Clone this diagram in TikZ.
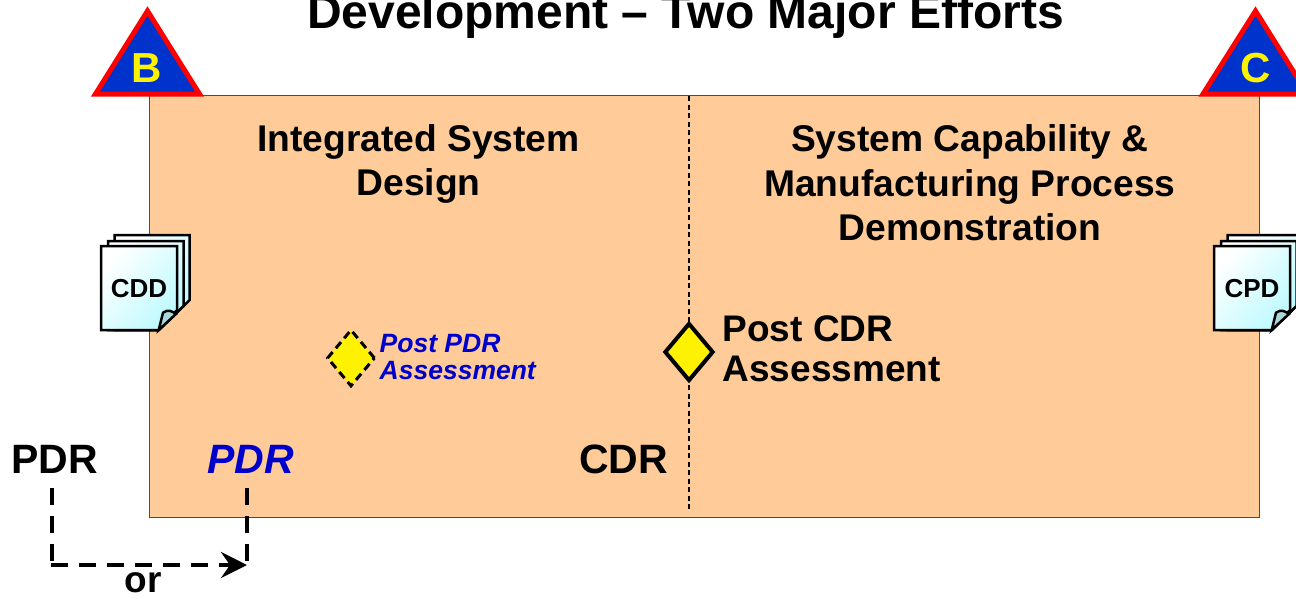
\documentclass[tikz,border=0pt]{standalone}
\usepackage{fontspec}
\setmainfont{Liberation Sans}
\usetikzlibrary{positioning,arrows.meta,shapes.geometric}

\definecolor{panelfill}{RGB}{255,204,153}
\definecolor{deltablue}{RGB}{0,51,204}
\definecolor{textblue}{RGB}{0,0,204}
\definecolor{pagecyan}{RGB}{190,250,255}
\definecolor{curlfill}{RGB}{170,215,215}

\tikzset{
  head/.style={font=\bfseries\fontsize{37.2}{44.5}\selectfont,align=center,inner sep=0pt},
  review/.style={font=\bfseries\fontsize{41}{41}\selectfont,inner ysep=14.5pt,inner xsep=0pt},
  delta/.style={draw=red,fill=deltablue,line width=5pt,miter limit=10},
  deltatext/.style={font=\bfseries\fontsize{42}{42}\selectfont,text=yellow,inner sep=0pt},
  gate/.style={diamond,fill=yellow,draw=black,inner sep=0pt},
  orline/.style={line width=4pt,dash pattern=on 16.5pt off 11.5pt},
  page/.style={draw=black,line width=2.5pt,line join=miter,top color=white,bottom color=pagecyan,shading angle=50},
  pics/docstack/.style={code={
    \path[page] (13.5,-11) -- (88.7,-11) -- (88.7,54) -- (57.7,84) -- (13.5,84) -- cycle;
    \path[page] (7,-5) -- (82.5,-5) -- (82.5,60) -- (57.7,84) -- (7,84) -- cycle;
    \path[page] (0,0) -- (76,0) -- (76,64) -- (57.7,84) -- (0,84) -- cycle;
    \draw[fill=curlfill,line width=2.5pt] (57.7,84) -- (62,66.7) .. controls (67,63) and (71,65) .. (75,68) -- cycle;
    \node[font=\bfseries\fontsize{26}{26}\selectfont,inner sep=0pt] (label) at (38,43) {#1};
  }}
}

\begin{document}
\begin{tikzpicture}[x=1pt,y=-1pt]
   \clip (0,0) rectangle (1296,598);
   \node[font=\bfseries\fontsize{48}{48}\selectfont,anchor=base,inner sep=0pt] (title) at (685.5,28) {Development -- Two Major Efforts};

   \node[draw=black!70,line width=1pt,fill=panelfill,minimum width=1110pt,minimum height=422pt,inner sep=0pt,anchor=north west] (panel) at (148.5,95) {};
   \coordinate (divtop) at (688.5,96);
   \coordinate (divend) at (688.5,510);
   \draw[line width=2pt,dash pattern=on 5pt off 3.5pt] (divtop) -- (divend);

   % milestones
   \path[delta] (147.5,11) -- (199.5,94) -- (95.5,94) -- cycle;
   \node[deltatext] (deltab) at (147,68) {B};
   \path[delta] (1255.5,11) -- (1307.5,94) -- (1203,94) -- cycle;
   \node[deltatext] (deltac) at (1256,68) {C};

   \node[head] (design) at (418.5,164) {Integrated System\\Design};
   \node[head] (demo)   at (970,183)   {System Capability \&\\Manufacturing Process\\Demonstration};

   \pic (cdd) at (101,246) {docstack=CDD};
   \pic (cpd) at (1214,246) {docstack=CPD};

   \node[gate,dash pattern=on 8pt off 5pt,line width=3pt,minimum width=48pt,minimum height=57pt] (gatepdr) at (351,358) {};
   \node[font=\bfseries\itshape\fontsize{26.5}{27}\selectfont,text=textblue,align=left,inner sep=0pt,right=3pt of gatepdr,yshift=1pt] (postpdr) {Post PDR\\Assessment};
   \node[gate,line width=4pt,minimum width=49pt,minimum height=58pt] (gatecdr) at (689,352) {};
   \node[font=\bfseries\fontsize{37}{40}\selectfont,align=left,inner sep=0pt,right=7pt of gatecdr,yshift=3pt] (postcdr) {Post CDR\\Assessment};

   \node[review] (pdr)  at (54.5,459.5) {PDR};
   \node[review,text=textblue,font=\bfseries\itshape\fontsize{41}{41}\selectfont] (pdrb) at (250.5,459.5) {PDR};
   \node[review] (cdr)  at (623.5,459.5) {CDR};
   \coordinate (orbend) at (51,565);
   \coordinate (orend) at (247,565);
   \draw[orline] ([xshift=-2.5pt]pdr.south) |- (orbend);
   \draw[orline,-{Stealth[length=26pt,width=26pt,inset=9pt]}] (orbend) -- (orend);
   \draw[orline] ([xshift=-3.5pt]pdrb.south) -- (orend);
   \node[font=\bfseries\fontsize{37}{37}\selectfont,inner sep=0pt] (or) at (143,583) {or};
\end{tikzpicture}
\end{document}
